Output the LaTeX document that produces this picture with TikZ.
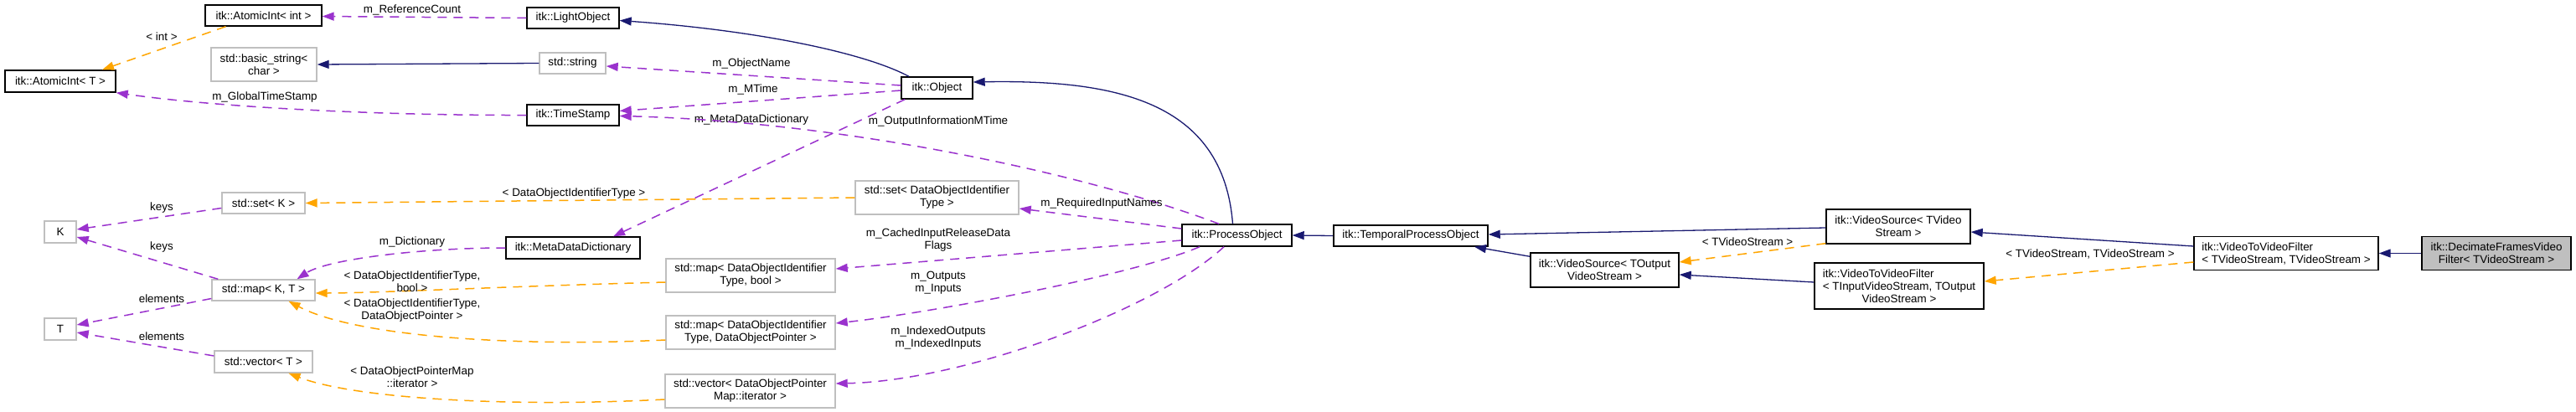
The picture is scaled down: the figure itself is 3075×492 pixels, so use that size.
\documentclass[tikz,border=0pt]{standalone}
\usepackage{fontspec}
\setmainfont{Liberation Sans}
\usetikzlibrary{arrows.meta,calc}
\definecolor{inhblue}{HTML}{191970}
\definecolor{usepurple}{HTML}{9A32CD}
\definecolor{tmplorange}{HTML}{FFA500}
\definecolor{extgray}{HTML}{BFBFBF}
\definecolor{curgray}{HTML}{BFBFBF}
\begin{document}
\begin{tikzpicture}[x=1pt,y=-1pt,
  every node/.style={font=\fontsize{13.4}{15}\selectfont, inner sep=0pt, align=center},
  cls/.style={draw=black, line width=1.4pt, fill=white},
  extcls/.style={draw=extgray, line width=1.4pt, fill=white},
  curcls/.style={draw=black, line width=1.4pt, fill=curgray},
  tip/.style={-{Triangle[length=14pt,width=10pt]}},
  inh/.style={draw=inhblue, line width=1.3pt, tip},
  usage/.style={draw=usepurple, line width=1.5pt, dash pattern=on 11pt off 8pt, tip},
  tmpl/.style={draw=tmplorange, line width=1.5pt, dash pattern=on 11pt off 8pt, tip}]
\useasboundingbox (0,0) rectangle (3075,492);

% nodes
\node[cls, minimum width=139pt, minimum height=25pt] (aint) at (314.5,18.5) {itk::AtomicInt< int >};
\node[cls, minimum width=110pt, minimum height=25pt] (light) at (684,21.5) {itk::LightObject};
\node[extcls, minimum width=126pt, minimum height=40pt] (bstr) at (315,77) {std::basic\_string<\\char >};
\node[extcls, minimum width=79pt, minimum height=25pt] (str) at (683.5,75.5) {std::string};
\node[cls, minimum width=132pt, minimum height=26pt] (aintT) at (72,97) {itk::AtomicInt< T >};
\node[cls, minimum width=110pt, minimum height=25pt] (ts) at (684,137.5) {itk::TimeStamp};
\node[cls, minimum width=85pt, minimum height=26pt] (obj) at (1118.5,105) {itk::Object};
\node[extcls, minimum width=99pt, minimum height=25pt] (setK) at (314.5,242.5) {std::set< K >};
\node[extcls, minimum width=38pt, minimum height=26pt] (K) at (72,277) {K};
\node[cls, minimum width=160pt, minimum height=26pt] (mdd) at (684,296) {itk::MetaDataDictionary};
\node[extcls, minimum width=123pt, minimum height=25pt] (mapKT) at (314.5,346.5) {std::map< K, T >};
\node[extcls, minimum width=38pt, minimum height=26pt] (T) at (72,393) {T};
\node[extcls, minimum width=117pt, minimum height=26pt] (vecT) at (314.5,432) {std::vector< T >};
\node[extcls, minimum width=195pt, minimum height=40pt] (setD) at (1118.5,236) {std::set< DataObjectIdentifier\\Type >};
\node[cls, minimum width=131pt, minimum height=26pt] (po) at (1476.5,281) {itk::ProcessObject};
\node[extcls, minimum width=202pt, minimum height=40pt] (mapB) at (896,329) {std::map< DataObjectIdentifier\\Type, bool >};
\node[extcls, minimum width=202pt, minimum height=40pt] (mapP) at (896,397) {std::map< DataObjectIdentifier\\Type, DataObjectPointer >};
\node[extcls, minimum width=203pt, minimum height=40pt] (vecP) at (895.5,467) {std::vector< DataObjectPointer\\Map::iterator >};
\node[cls, minimum width=184pt, minimum height=25pt] (tpo) at (1684,281.5) {itk::TemporalProcessObject};
\node[cls, minimum width=172pt, minimum height=41pt] (vs) at (2266,270.5) {itk::VideoSource< TVideo\\Stream >};
\node[cls, minimum width=177pt, minimum height=41pt] (vso) at (1915.5,322.5) {itk::VideoSource< TOutput\\VideoStream >};
\node[cls, minimum width=202pt, minimum height=55pt] (vtvf) at (2267,341.5) {\rlap{itk::VideoToVideoFilter}\phantom{< TInputVideoStream, TOutput}\\< TInputVideoStream, TOutput\\VideoStream >};
\node[cls, minimum width=220pt, minimum height=40pt] (vtvf2) at (2729,302.5) {\rlap{itk::VideoToVideoFilter}\phantom{< TVideoStream, TVideoStream >}\\< TVideoStream, TVideoStream >};
\node[curcls, minimum width=178pt, minimum height=40pt] (dff) at (2980,302.5) {itk::DecimateFramesVideo\\Filter< TVideoStream >};

% inheritance
\draw[inh] ($(obj.north)+(-33.5,0)$) .. controls (1030,62) and (900,36) .. ($(light.east)+(0,3)$);
\draw[inh] (str.west) -- (bstr.east);
\draw[inh] ($(po.north)+(-5,0)$) .. controls (1460,120) and (1330,95) .. ($(obj.east)+(0,-7)$);
\draw[inh] (tpo.west) -- (po.east);
\draw[inh] ($(vs.west)+(0,1.5)$) -- ($(tpo.east)+(0,-1.5)$);
\draw[inh] ($(vso.north west)+(0,5)$) -- ($(tpo.south)+(76,0)$);
\draw[inh] ($(vtvf.west)+(0,-4.5)$) -- ($(vso.east)+(0,5.5)$);
\draw[inh] ($(vtvf2.west)+(0,-8.5)$) -- ($(vs.east)+(0,6.5)$);
\draw[inh] (dff.west) -- (vtvf2.east);

% usage
\draw[usage] (light.west) -- ($(aint.east)+(0,1)$) node at (492,12) {m\_ReferenceCount};
\draw[usage] ($(obj.west)+(0,-3)$) -- ($(str.east)+(0,3.5)$) node at (897,76) {m\_ObjectName};
\draw[usage] ($(obj.west)+(0,3)$) -- ($(ts.east)+(0,-5)$) node at (899,107) {m\_MTime};
\draw[usage] (ts.west) .. controls (450,138) and (260,128) .. (aintT.south east) node at (316,116) {m\_GlobalTimeStamp};
\draw[usage] ($(obj.south west)+(5,0)$) -- ($(mdd.north)+(48,0)$) node at (897,143) {m\_MetaDataDictionary};
\draw[usage] ($(po.north)+(-21.5,0)$) .. controls (1290,205) and (1000,145) .. ($(ts.east)+(0,1)$) node at (1120,145) {m\_OutputInformationMTime};
\draw[usage] (mdd.west) .. controls (500,296) and (390,310) .. ($(mapKT.north)+(40,0)$) node at (492,289) {m\_Dictionary};
\draw[usage] ($(po.west)+(0,-8)$) -- ($(setD.east)+(0,13)$) node at (1315,243) {m\_RequiredInputNames};
\draw[usage] ($(po.west)+(0,6)$) -- ($(mapB.east)+(0,-8)$) node at (1120,287) {m\_CachedInputReleaseData\\Flags};
\draw[usage] ($(po.south)+(-44.5,0)$) .. controls (1350,330) and (1100,375) .. ($(mapP.east)+(0,-11)$) node at (1120,338) {m\_Outputs\\m\_Inputs};
\draw[usage] ($(po.south)+(-15.5,0)$) .. controls (1380,370) and (1150,455) .. ($(vecP.east)+(0,-9)$) node at (1120,404) {m\_IndexedOutputs\\m\_IndexedInputs};
\draw[usage] ($(setK.west)+(0,6)$) -- ($(K.east)+(0,-3)$) node at (193,248) {keys};
\draw[usage] ($(mapKT.north west)+(8,0)$) -- ($(K.east)+(0,6)$) node at (193,295) {keys};
\draw[usage] ($(mapKT.west)+(0,10)$) -- ($(T.east)+(0,-5)$) node at (193,357) {elements};
\draw[usage] ($(vecT.west)+(0,-7)$) -- ($(T.east)+(0,4)$) node at (193,402) {elements};

% template instances
\draw[tmpl] ($(aint.south)+(-45,0)$) -- ($(aintT.north)+(50,0)$) node at (193,44) {< int >};
\draw[tmpl] (setD.west) -- (setK.east) node at (685,231) {< DataObjectIdentifierType >};
\draw[tmpl] ($(mapB.west)+(0,8)$) .. controls (600,342) and (450,350) .. ($(mapKT.east)+(0,3.5)$) node at (492,336) {< DataObjectIdentifierType,\\bool >};
\draw[tmpl] ($(mapP.west)+(0,9)$) .. controls (600,415) and (420,400) .. ($(mapKT.south)+(30,0)$) node at (492,371) {< DataObjectIdentifierType,\\DataObjectPointer >};
\draw[tmpl] ($(vecP.west)+(0,10)$) .. controls (600,487) and (420,475) .. ($(vecT.south)+(30,0)$) node at (492,450) {< DataObjectPointerMap\\::iterator >};
\draw[tmpl] ($(vs.south west)+(0,-1)$) -- ($(vso.east)+(0,-9.5)$) node at (2086,289) {< TVideoStream >};
\draw[tmpl] ($(vtvf2.west)+(0,10.5)$) -- ($(vtvf.east)+(0,-5.5)$) node at (2495,304) {< TVideoStream, TVideoStream >};
\end{tikzpicture}
\end{document}
